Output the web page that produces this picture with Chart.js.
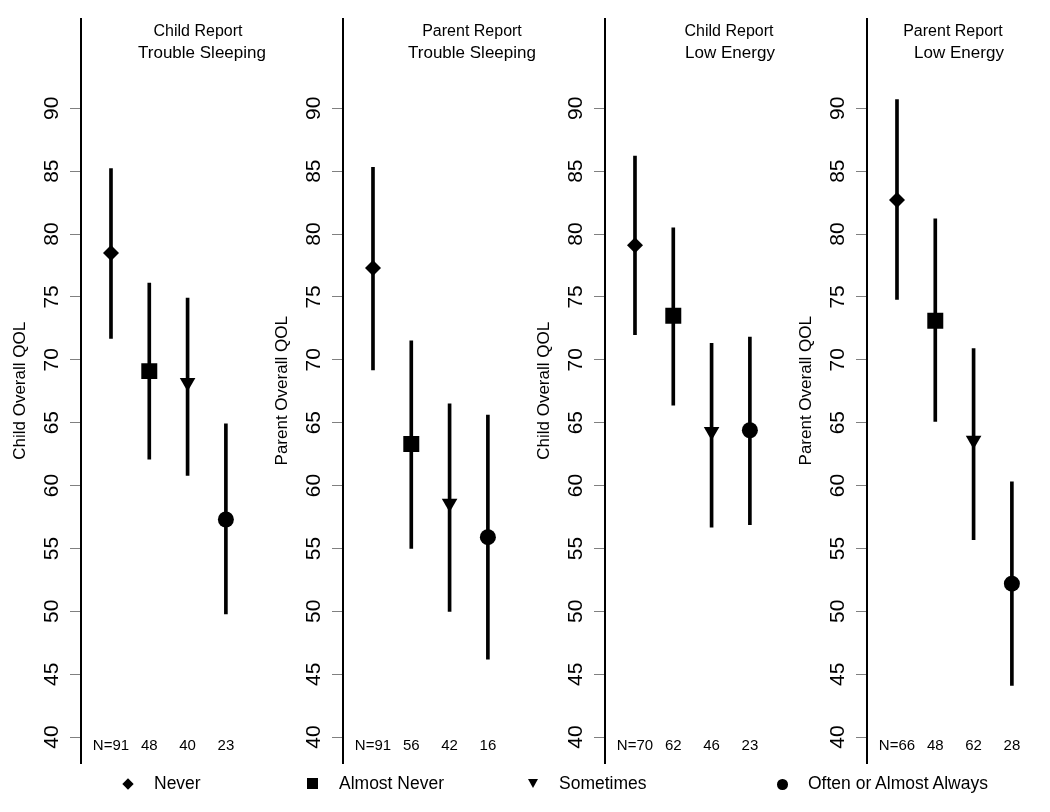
<!DOCTYPE html>
<html>
<head>
<meta charset="utf-8">
<script src="https://cdn.jsdelivr.net/npm/chart.js@4.4.1/dist/chart.umd.min.js"></script>
<style>
  body { margin: 0; background: #fff; font-family: 'Liberation Sans', Arial, sans-serif; color: #000; }
  #wrap { position: relative; width: 1050px; height: 812px; overflow: hidden; }
  canvas { position: absolute; top: 0; }
  .t1, .t2 { position: absolute; white-space: nowrap; transform: translateX(-50%); line-height: 20px; }
  .t1 { font-size: 16px; top: 21px; }
  .t2 { font-size: 17px; top: 43px; }
  .lg { position: absolute; top: 773px; font-size: 17.5px; line-height: 20px; white-space: nowrap; }
  .mk { position: absolute; background: #000; }
</style>
</head>
<body>
<div id="wrap">
  <canvas id="p1" width="262" height="812" style="left:0px"></canvas>
  <canvas id="p2" width="262" height="812" style="left:262px"></canvas>
  <canvas id="p3" width="262" height="812" style="left:524px"></canvas>
  <canvas id="p4" width="262" height="812" style="left:786px"></canvas>

  <div class="t1" style="left:198px">Child Report</div>
  <div class="t2" style="left:202px">Trouble Sleeping</div>
  <div class="t1" style="left:472px">Parent Report</div>
  <div class="t2" style="left:472px">Trouble Sleeping</div>
  <div class="t1" style="left:729px">Child Report</div>
  <div class="t2" style="left:730px">Low Energy</div>
  <div class="t1" style="left:953px">Parent Report</div>
  <div class="t2" style="left:959px">Low Energy</div>

  <!-- legend -->
  <div class="mk" style="left:124px;top:780px;width:8px;height:8px;transform:rotate(45deg)"></div>
  <div class="lg" style="left:154px">Never</div>
  <div class="mk" style="left:307px;top:778px;width:11px;height:11px"></div>
  <div class="lg" style="left:339px">Almost Never</div>
  <div style="position:absolute;left:528px;top:779px;width:0;height:0;border-left:5px solid transparent;border-right:5px solid transparent;border-top:9px solid #000"></div>
  <div class="lg" style="left:559px">Sometimes</div>
  <div class="mk" style="left:777px;top:779px;width:10.5px;height:10.5px;border-radius:50%"></div>
  <div class="lg" style="left:808px">Often or Almost Always</div>
</div>

<script>
// categorias de frecuencia
const categories = ['Never', 'Almost Never', 'Sometimes', 'Often or Almost Always'];
const markerStyles = ['rectRot', 'rect', 'triangle', 'circle'];
const yTicks = [40, 45, 50, 55, 60, 65, 70, 75, 80, 85, 90];

// Child report - trouble sleeping
const childSleepMean = [78.5, 69.1, 68.2, 57.3];
const childSleepLow = [71.7, 62.1, 60.8, 49.8];
const childSleepHigh = [85.2, 76.1, 74.9, 64.9];
const childSleepN = ['N=91', '48', '40', '23'];

// Parent report - trouble sleeping
const parentSleepMean = [77.3, 63.3, 58.6, 55.9];
const parentSleepLow = [69.2, 55.0, 50.0, 46.2];
const parentSleepHigh = [85.3, 71.5, 66.5, 65.6];
const parentSleepN = ['N=91', '56', '42', '16'];

// Child report - low energy
const childEnergyMean = [79.1, 73.5, 64.3, 64.4];
const childEnergyLow = [72.0, 66.4, 56.7, 56.9];
const childEnergyHigh = [86.2, 80.5, 71.3, 71.8];
const childEnergyN = ['N=70', '62', '46', '23'];

// Parent report - low energy
const parentEnergyMean = [82.7, 73.1, 63.6, 52.2];
const parentEnergyLow = [74.8, 65.1, 55.7, 44.1];
const parentEnergyHigh = [90.7, 81.2, 70.9, 60.3];
const parentEnergyN = ['N=66', '48', '62', '28'];

Chart.defaults.font.family = "'Liberation Sans', Arial, sans-serif";
Chart.defaults.color = '#000';

function makePanel(id, mean, low, high, nLabels, yTitle) {
  var ctx = document.getElementById(id).getContext('2d');
  var positions = categories.map(function (c, i) { return i + 1; });

  new Chart(ctx, {
    type: 'bar',
    data: {
      datasets: [
        {
          type: 'scatter',
          order: 0,
          data: positions.map(function (x, i) { return { x: x, y: mean[i] }; }),
          pointStyle: markerStyles,
          pointRadius: [8, 11.3, 9, 8],
          pointRotation: [0, 0, 180, 0],
          pointBackgroundColor: '#000',
          pointBorderColor: '#000',
          pointBorderWidth: 0
        },
        {
          type: 'bar',
          order: 1,
          data: positions.map(function (x, i) { return { x: x, y: [low[i], high[i]] }; }),
          backgroundColor: '#000',
          borderWidth: 0,
          barThickness: 3
        }
      ]
    },
    options: {
      responsive: false,
      animation: false,
      events: [],
      layout: { autoPadding: false, padding: { top: 16, bottom: 49, left: 0, right: 0 } },
      plugins: { legend: { display: false }, tooltip: { enabled: false } },
      scales: {
        x: {
          type: 'linear',
          min: 0.217,
          max: 4.943,
          offset: false,
          afterBuildTicks: function (s) { s.ticks = positions.map(function (v) { return { value: v }; }); },
          afterFit: function (s) { s.height = 0; s.paddingLeft = 0; s.paddingRight = 0; },
          grid: { display: false, drawTicks: false, offset: false },
          border: { display: false },
          ticks: {
            autoSkip: false,
            maxRotation: 0,
            mirror: true,
            padding: 8,
            font: { size: 15 },
            color: '#000',
            callback: function (v, i) { return nLabels[i]; }
          }
        },
        y: {
          min: 37.94,
          max: 97.13,
          afterBuildTicks: function (s) { s.ticks = yTicks.map(function (v) { return { value: v }; }); },
          afterFit: function (s) { s.width = 81; },
          border: { display: true, color: '#000', width: 2 },
          grid: { display: true, drawOnChartArea: false, drawTicks: true, tickLength: 11, color: '#808080', lineWidth: 1 },
          ticks: {
            color: '#000',
            font: { size: 21 },
            minRotation: 90,
            maxRotation: 90,
            crossAlign: 'center',
            padding: 6
          },
          title: {
            display: true,
            text: yTitle,
            color: '#000',
            font: { size: 17 },
            padding: { top: 10, bottom: 0 }
          }
        }
      }
    }
  });
}

makePanel('p1', childSleepMean, childSleepLow, childSleepHigh, childSleepN, 'Child Overall QOL');
makePanel('p2', parentSleepMean, parentSleepLow, parentSleepHigh, parentSleepN, 'Parent Overall QOL');
makePanel('p3', childEnergyMean, childEnergyLow, childEnergyHigh, childEnergyN, 'Child Overall QOL');
makePanel('p4', parentEnergyMean, parentEnergyLow, parentEnergyHigh, parentEnergyN, 'Parent Overall QOL');
</script>
</body>
</html>
